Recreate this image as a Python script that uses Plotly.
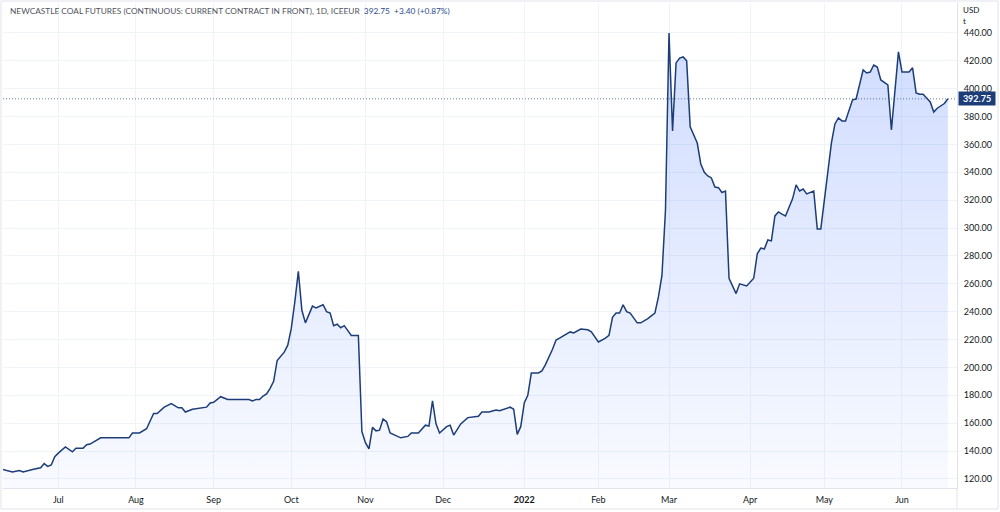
import plotly.graph_objects as go

dates = [
    "2021-06-09", "2021-06-14", "2021-06-16", "2021-06-17", "2021-06-22", "2021-06-24",
    "2021-06-25", "2021-06-28", "2021-06-29", "2021-06-30", "2021-07-01", "2021-07-02",
    "2021-07-05", "2021-07-07", "2021-07-08", "2021-07-09", "2021-07-12", "2021-07-13",
    "2021-07-14", "2021-07-19", "2021-07-29", "2021-07-30", "2021-08-02", "2021-08-03",
    "2021-08-05", "2021-08-06", "2021-08-09", "2021-08-10", "2021-08-12", "2021-08-16",
    "2021-08-18", "2021-08-19", "2021-08-20", "2021-08-24", "2021-08-26", "2021-08-30",
    "2021-08-31", "2021-09-01", "2021-09-03", "2021-09-06", "2021-09-07", "2021-09-15",
    "2021-09-16", "2021-09-17", "2021-09-20", "2021-09-21", "2021-09-22", "2021-09-23",
    "2021-09-24", "2021-09-27", "2021-09-28", "2021-09-29", "2021-09-30", "2021-10-01",
    "2021-10-04", "2021-10-05", "2021-10-06", "2021-10-07", "2021-10-11", "2021-10-12",
    "2021-10-14", "2021-10-15", "2021-10-18", "2021-10-19", "2021-10-20", "2021-10-21",
    "2021-10-22", "2021-10-25", "2021-10-26", "2021-10-27", "2021-10-28", "2021-10-29",
    "2021-11-01", "2021-11-02", "2021-11-03", "2021-11-04", "2021-11-05", "2021-11-08",
    "2021-11-09", "2021-11-10", "2021-11-11", "2021-11-15", "2021-11-17", "2021-11-18",
    "2021-11-22", "2021-11-24", "2021-11-25", "2021-11-26", "2021-11-29", "2021-11-30",
    "2021-12-02", "2021-12-03", "2021-12-06", "2021-12-08", "2021-12-10", "2021-12-15",
    "2021-12-16", "2021-12-20", "2021-12-22", "2021-12-23", "2021-12-28", "2021-12-29",
    "2021-12-30", "2021-12-31", "2022-01-03", "2022-01-04", "2022-01-05", "2022-01-07",
    "2022-01-10", "2022-01-11", "2022-01-13", "2022-01-14", "2022-01-17", "2022-01-20",
    "2022-01-21", "2022-01-25", "2022-01-27", "2022-01-28", "2022-02-01", "2022-02-03",
    "2022-02-04", "2022-02-07", "2022-02-08", "2022-02-09", "2022-02-10", "2022-02-11",
    "2022-02-14", "2022-02-16", "2022-02-17", "2022-02-21", "2022-02-23", "2022-02-24",
    "2022-02-25", "2022-02-28", "2022-03-01", "2022-03-02", "2022-03-03", "2022-03-04",
    "2022-03-07", "2022-03-08", "2022-03-09", "2022-03-10", "2022-03-11", "2022-03-14",
    "2022-03-15", "2022-03-16", "2022-03-17", "2022-03-18", "2022-03-21", "2022-03-22",
    "2022-03-23", "2022-03-24", "2022-03-25", "2022-03-28", "2022-03-29", "2022-03-30",
    "2022-03-31", "2022-04-04", "2022-04-05", "2022-04-06", "2022-04-07", "2022-04-08",
    "2022-04-11", "2022-04-12", "2022-04-13", "2022-04-14", "2022-04-15", "2022-04-19",
    "2022-04-20", "2022-04-21", "2022-04-22", "2022-04-25", "2022-04-27", "2022-04-28",
    "2022-04-29", "2022-05-04", "2022-05-05", "2022-05-06", "2022-05-09", "2022-05-10",
    "2022-05-11", "2022-05-12", "2022-05-13", "2022-05-17", "2022-05-18", "2022-05-19",
    "2022-05-20", "2022-05-23", "2022-05-24", "2022-05-25", "2022-05-26", "2022-05-27",
    "2022-05-31", "2022-06-01", "2022-06-02", "2022-06-03", "2022-06-06", "2022-06-07",
    "2022-06-08", "2022-06-09", "2022-06-13", "2022-06-14", "2022-06-15", "2022-06-17",
    "2022-06-20",
]

prices = [
    127, 125, 126, 125, 127, 128,
    131, 129, 130, 136, 138.5, 141,
    143, 139.5, 142, 142, 142, 144.5,
    145, 149.5, 149.5, 153, 153, 153,
    156, 161, 167, 167, 171.5, 174,
    171, 171, 168, 170, 171, 171.5,
    174.5, 175, 179, 178, 177, 177,
    176, 177, 177, 179.5, 181, 185,
    190, 205, 208, 211, 216, 228,
    247, 269, 241, 232, 244, 242.7,
    245, 240, 239, 230, 231, 228.5,
    230, 226, 223, 223, 223, 154,
    146, 141.5, 157, 154.5, 155, 163,
    161, 153, 152, 149.5, 150.5, 153,
    153, 158.6, 158, 176, 159.5, 153,
    157.5, 158.6, 151.5, 159.5, 164, 165,
    168, 168, 169.5, 169, 171.5, 170,
    152, 157.5, 174.5, 180, 196, 196,
    197.5, 202, 213, 219.7, 221, 225.5,
    224.7, 227.6, 227, 225.5, 218.3, 221,
    223, 236, 239, 239, 245, 240,
    239, 232, 232, 235, 239, 250.6,
    266, 313, 440, 369.7, 418.5, 422,
    422.8, 420, 372.6, 366.8, 361, 346,
    340, 337.4, 336, 329.5, 329, 325.5,
    326.6, 264, 259, 253, 260, 259,
    258.5, 264, 281.5, 285.7, 285, 291.5,
    290.8, 308.7, 311.6, 310, 308.7, 321,
    331, 326.6, 328, 324.5, 326.6, 299.4,
    299.4, 361, 374.7, 379, 376.9, 376.9,
    384.7, 392, 392.6, 413.5, 411.3, 412,
    417, 415.6, 406.3, 404.5, 402.7, 370.4,
    426.4, 412, 412, 412, 415, 397,
    396, 396, 390.5, 383.3, 386, 389.35,
    392.75,
]

month_tick_dates = ["2021-07-01", "2021-08-02", "2021-09-01", "2021-10-01", "2021-11-01",
                    "2021-12-01", "2022-01-03", "2022-02-01", "2022-03-01", "2022-04-01",
                    "2022-05-02", "2022-06-01"]
month_tick_labels = ["Jul", "Aug", "Sep", "Oct", "Nov", "Dec", "<b>2022</b>", "Feb", "Mar",
                     "Apr", "May", "Jun"]
price_ticks = [120, 140, 160, 180, 200, 220, 240, 260, 280, 300, 320, 340, 360, 380, 400, 420, 440]

title_text = "NEWCASTLE COAL FUTURES (CONTINUOUS: CURRENT CONTRACT IN FRONT), 1D, ICEEUR"
last_price = 392.75
change_text = "+3.40 (+0.87%)"

LINE = "#1c3d78"
GRID = "#f0f3fa"
BORDER = "#e0e3eb"
TEXT = "#131722"
FONT = "Lato"

W, H = 1000, 512
ML, MR, MT, MB = 3, 43, 3, 24

fig = go.Figure()
fig.add_trace(go.Scatter(
    x=dates, y=prices, mode="lines",
    line=dict(color=LINE, width=1.5),
    fill="tozeroy",
    fillgradient=dict(type="vertical",
                      colorscale=[[0, "rgba(41,98,255,0.03)"], [1, "rgba(41,98,255,0.22)"]],
                      start=113, stop=440),
    hoverinfo="skip", showlegend=False,
))

fig.update_layout(
    width=W, height=H,
    margin=dict(l=ML, r=MR, t=MT, b=MB),
    paper_bgcolor="white", plot_bgcolor="white",
    font=dict(family=FONT, size=9, color=TEXT),
    showlegend=False,
)

fig.update_xaxes(
    type="date",
    rangebreaks=[dict(bounds=["sat", "mon"])],
    range=["2021-06-09 08:00", "2022-06-22 14:00"],
    tickmode="array", tickvals=month_tick_dates, ticktext=month_tick_labels,
    showgrid=True, gridcolor=GRID, gridwidth=1,
    showline=True, linecolor=BORDER, linewidth=1,
    ticks="", ticklabelstandoff=3,
    tickfont=dict(family=FONT, size=9, color=TEXT),
    zeroline=False, fixedrange=True,
)
fig.update_yaxes(
    side="right",
    range=[113.5, 461.5],
    tickmode="array", tickvals=price_ticks,
    ticktext=[f"{v:.2f}" for v in price_ticks],
    showgrid=True, gridcolor=GRID, gridwidth=1,
    showline=True, linecolor=BORDER, linewidth=1,
    ticks="", ticklabelstandoff=4,
    tickfont=dict(family=FONT, size=9, color=TEXT),
    zeroline=False, fixedrange=True,
)

# last price dotted line
fig.add_shape(type="line", xref="paper", yref="y", x0=0, x1=1, y0=last_price, y1=last_price,
              line=dict(color="rgba(28,61,120,0.65)", width=1, dash="1px,2px"), layer="above")

# outer frame & axis corner separators (paper coords)
pw = W - ML - MR
ph = H - MT - MB
def px2paper_x(px):
    return (px - ML) / pw
def px2paper_y(py):
    return (H - MB - py) / ph

fig.add_shape(type="rect", xref="paper", yref="paper",
              x0=px2paper_x(1), x1=px2paper_x(998), y0=px2paper_y(509), y1=px2paper_y(1),
              line=dict(color=BORDER, width=1), fillcolor="rgba(0,0,0,0)", layer="above")
fig.add_shape(type="line", xref="paper", yref="paper",
              x0=1, x1=1, y0=px2paper_y(509), y1=0,
              line=dict(color=BORDER, width=1), layer="above")

# last price label
fig.add_annotation(xref="paper", yref="y", x=1, y=last_price, xanchor="left", yanchor="middle",
                   xshift=1, text=f"<b>{last_price:.2f}</b>", showarrow=False,
                   font=dict(family=FONT, size=9, color="white"),
                   bgcolor=LINE, borderpad=1, width=34, align="center")

# currency/unit labels
fig.add_annotation(xref="paper", yref="paper", x=1, y=px2paper_y(10), xanchor="left",
                   yanchor="middle", xshift=4, text="USD", showarrow=False,
                   font=dict(family=FONT, size=8, color=TEXT))
fig.add_annotation(xref="paper", yref="paper", x=1, y=px2paper_y(21), xanchor="left",
                   yanchor="middle", xshift=4, text="t", showarrow=False,
                   font=dict(family=FONT, size=8, color=TEXT))

# title
fig.add_annotation(xref="paper", yref="paper", x=px2paper_x(8), y=px2paper_y(11),
                   xanchor="left", yanchor="middle", showarrow=False,
                   text=(f"<span style='color:#50535e'>{title_text}</span>"
                         f"  <span style='color:#2a4a8c'>{last_price:.2f}  {change_text}</span>"),
                   font=dict(family=FONT, size=8.3))

fig.write_html("out.html")
